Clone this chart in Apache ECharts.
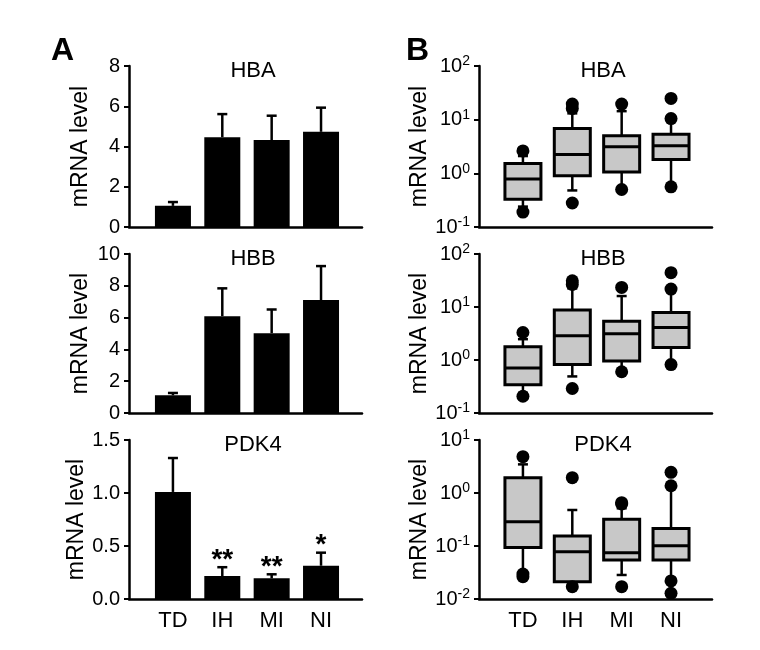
<!DOCTYPE html>
<html>
<head>
<meta charset="utf-8">
<script src="https://cdn.jsdelivr.net/npm/echarts@6/dist/echarts.min.js"></script>
<style>html,body{margin:0;padding:0;background:#fff}#c{width:760px;height:650px}</style>
</head>
<body>
<div id="c"></div>
<script>
// ---- Data ----
const categories = ['TD', 'IH', 'MI', 'NI'];
const genes = ['HBA', 'HBB', 'PDK4'];

// Panel A: mean and mean+SEM
const hbaMean = [1.05, 4.46, 4.32, 4.73];
const hbaErr  = [1.24, 5.61, 5.53, 5.93];
const hbbMean = [1.11, 6.09, 5.02, 7.10];
const hbbErr  = [1.26, 7.84, 6.51, 9.24];
const pdk4Mean = [1.01, 0.217, 0.195, 0.314];
const pdk4Err  = [1.33, 0.30, 0.233, 0.437];
const pdk4Stars = ['', '**', '**', '*'];

// Panel B: [whiskerLow, Q1, median, Q3, whiskerHigh]
const hbaBox = [
  [0.24, 0.33, 0.78, 1.52, 2.1],
  [0.48, 0.90, 2.24, 6.86, 13.1],
  [0.52, 1.06, 3.12, 5.0, 14.4],
  [0.56, 1.81, 3.26, 5.37, 10.5]
];
const hbaOut = [[0, 2.62], [0, 0.19], [1, 19.5], [1, 16.2], [1, 0.28], [2, 19.5], [2, 0.50], [3, 24.9], [3, 10.5], [3, 0.56]];
const hbbBox = [
  [0.24, 0.34, 0.71, 1.77, 2.47],
  [0.49, 0.82, 2.86, 8.74, 22.4],
  [0.60, 0.96, 3.12, 5.41, 16.1],
  [0.82, 1.72, 4.11, 7.89, 21.8]
];
const hbbOut = [[0, 3.30], [0, 0.207], [1, 31.3], [1, 26.7], [1, 0.29], [2, 23.4], [2, 0.60], [3, 44.4], [3, 21.8], [3, 0.82]];
const pdk4Box = [
  [0.033, 0.094, 0.288, 1.95, 3.47],
  [0.019, 0.0212, 0.078, 0.155, 0.478],
  [0.0284, 0.0544, 0.0748, 0.318, 0.514],
  [0.0219, 0.0544, 0.101, 0.215, 1.37]
];
const pdk4Out = [[0, 4.85], [0, 0.0296], [0, 0.0264], [1, 1.95], [1, 0.0171], [2, 0.657], [2, 0.62], [2, 0.0171], [3, 2.45], [3, 1.37], [3, 0.0219], [3, 0.0128]];

const yLinear = [
  {min: 0, max: 8, interval: 2, dec: 0},
  {min: 0, max: 10, interval: 2, dec: 0},
  {min: 0, max: 1.5, interval: 0.5, dec: 1}
];
const yLog = [
  {min: 0.1, max: 100},
  {min: 0.1, max: 100},
  {min: 0.01, max: 10}
];

// ---- Layout ----
const FONT = 'Liberation Sans, Arial, sans-serif';
const grids = [];
const tops = [66, 254, 440];
const heights = [161, 159, 159];
const lefts = [129, 479];
for (let col = 0; col < 2; col++) {
  for (let row = 0; row < 3; row++) {
    grids.push({left: lefts[col], top: tops[row], width: 233, height: heights[row], containLabel: false});
  }
}

const xAxes = [], yAxes = [], series = [], titles = [];
function xAxisFor(gi, bottom) {
  return {
    type: 'value', gridIndex: gi, min: -0.89, max: 3.83,
    axisLine: {show: true, onZero: false, lineStyle: {color: '#000', width: 2.5}},
    axisTick: {show: false},
    splitLine: {show: false},
    axisLabel: bottom ? {
      show: true, customValues: [0, 1, 2, 3], margin: 11,
      formatter: v => categories[Math.round(v)] || '',
      color: '#000', fontSize: 22, fontFamily: FONT
    } : {show: false}
  };
}
const yName = {
  name: 'mRNA level', nameLocation: 'middle', nameGap: 37,
  nameTextStyle: {fontSize: 23, fontFamily: FONT, color: '#000'}
};

const barMeans = [hbaMean, hbbMean, pdk4Mean];
const barErrs = [hbaErr, hbbErr, pdk4Err];
const stars = [null, null, pdk4Stars];
const boxes = [hbaBox, hbbBox, pdk4Box];
const outs = [hbaOut, hbbOut, pdk4Out];

for (let row = 0; row < 3; row++) {
  const gi = row;
  xAxes.push(xAxisFor(gi, row === 2));
  const yl = yLinear[row];
  yAxes.push(Object.assign({
    type: 'value', gridIndex: gi, min: yl.min, max: yl.max, interval: yl.interval,
    axisLine: {show: true, onZero: false, lineStyle: {color: '#000', width: 2.5}},
    axisTick: {show: true, length: 5, lineStyle: {color: '#000', width: 2}},
    splitLine: {show: false},
    axisLabel: {margin: 9, color: '#000', fontSize: 20, fontFamily: FONT,
      formatter: v => v.toFixed(yl.dec)}
  }, yName));
  series.push({
    type: 'bar', xAxisIndex: gi, yAxisIndex: gi, barWidth: 36,
    itemStyle: {color: '#000'},
    data: barMeans[row].map((v, i) => [i, v]),
    silent: true
  });
  const st = stars[row];
  series.push({
    type: 'custom', xAxisIndex: gi, yAxisIndex: gi, silent: true,
    data: barMeans[row].map((v, i) => [i, v, barErrs[row][i]]),
    renderItem: function (params, api) {
      const p0 = api.coord([api.value(0), api.value(1)]);
      const p1 = api.coord([api.value(0), api.value(2)]);
      const children = [
        {type: 'line', shape: {x1: p0[0], y1: p0[1], x2: p1[0], y2: p1[1]}, style: {stroke: '#000', lineWidth: 2.5}},
        {type: 'line', shape: {x1: p1[0] - 5, y1: p1[1], x2: p1[0] + 5, y2: p1[1]}, style: {stroke: '#000', lineWidth: 2.5}}
      ];
      if (st && st[params.dataIndex]) {
        children.push({type: 'text', x: p1[0], y: p1[1] - 7,
          style: {text: st[params.dataIndex], fill: '#000', font: 'bold 28px ' + FONT, align: 'center', verticalAlign: 'middle'}});
      }
      return {type: 'group', children};
    }
  });
  titles.push({text: genes[row], left: 248, top: tops[row] - 11, textAlign: 'center',
    textStyle: {fontSize: 22, fontWeight: 'normal', fontFamily: FONT, color: '#000'}});
}

for (let row = 0; row < 3; row++) {
  const gi = 3 + row;
  xAxes.push(xAxisFor(gi, row === 2));
  const yl = yLog[row];
  yAxes.push(Object.assign({
    type: 'log', logBase: 10, gridIndex: gi, min: yl.min, max: yl.max, interval: 1,
    axisLine: {show: true, onZero: false, lineStyle: {color: '#000', width: 2.5}},
    axisTick: {show: true, length: 5, lineStyle: {color: '#000', width: 2}},
    minorTick: {show: false},
    splitLine: {show: false},
    axisLabel: {margin: 9, color: '#000', fontSize: 20, fontFamily: FONT,
      formatter: v => '10{s|' + Math.round(Math.log10(v)) + '}',
      rich: {s: {fontSize: 14, fontFamily: FONT, color: '#000', padding: [0, 0, 9, 0]}}}
  }, yName));
  series.push({
    type: 'custom', xAxisIndex: gi, yAxisIndex: gi, silent: true,
    data: boxes[row].map((b, i) => [i].concat(b)),
    renderItem: function (params, api) {
      const x = api.value(0);
      const pl = api.coord([x, api.value(1)]);
      const p1 = api.coord([x, api.value(2)]);
      const pm = api.coord([x, api.value(3)]);
      const p3 = api.coord([x, api.value(4)]);
      const ph = api.coord([x, api.value(5)]);
      const hw = 18, cw = 5;
      const ls = {stroke: '#000', lineWidth: 2.5};
      return {type: 'group', children: [
        {type: 'line', shape: {x1: pl[0], y1: pl[1], x2: p1[0], y2: p1[1]}, style: ls},
        {type: 'line', shape: {x1: p3[0], y1: p3[1], x2: ph[0], y2: ph[1]}, style: ls},
        {type: 'line', shape: {x1: pl[0] - cw, y1: pl[1], x2: pl[0] + cw, y2: pl[1]}, style: ls},
        {type: 'line', shape: {x1: ph[0] - cw, y1: ph[1], x2: ph[0] + cw, y2: ph[1]}, style: ls},
        {type: 'rect', shape: {x: p3[0] - hw, y: p3[1], width: hw * 2, height: p1[1] - p3[1]},
          style: {fill: '#c8c8c8', stroke: '#000', lineWidth: 3}},
        {type: 'line', shape: {x1: pm[0] - hw, y1: pm[1], x2: pm[0] + hw, y2: pm[1]}, style: {stroke: '#000', lineWidth: 3}}
      ]};
    }
  });
  series.push({
    type: 'scatter', xAxisIndex: gi, yAxisIndex: gi, silent: true,
    symbol: 'circle', symbolSize: 13, itemStyle: {color: '#000', opacity: 1},
    data: outs[row], z: 5
  });
  titles.push({text: genes[row], left: 598, top: tops[row] - 11, textAlign: 'center',
    textStyle: {fontSize: 22, fontWeight: 'normal', fontFamily: FONT, color: '#000'}});
}

titles.push({text: 'A', left: 46, top: 30, textStyle: {fontSize: 32, fontWeight: 'bold', fontFamily: FONT, color: '#000'}});
titles.push({text: 'B', left: 401, top: 30, textStyle: {fontSize: 32, fontWeight: 'bold', fontFamily: FONT, color: '#000'}});

const chart = echarts.init(document.getElementById('c'), null, {renderer: 'canvas'});
chart.setOption({
  animation: false,
  backgroundColor: '#fff',
  title: titles,
  grid: grids,
  xAxis: xAxes,
  yAxis: yAxes,
  series: series
});
</script>
</body>
</html>
